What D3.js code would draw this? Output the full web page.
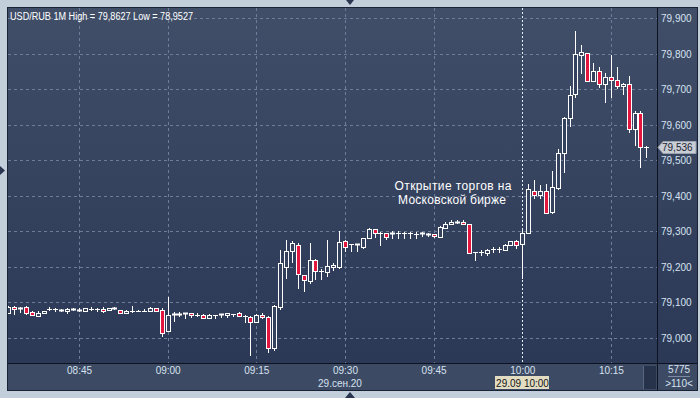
<!DOCTYPE html>
<html><head><meta charset="utf-8">
<script src="https://cdn.jsdelivr.net/npm/d3@7"></script>
<style>html,body{margin:0;padding:0;background:#c3cedb;}svg{display:block;}</style>
</head><body>
<script>
// ---- DATA ----
const times = ["08:33","08:34","08:35","08:36","08:37","08:38","08:39","08:40","08:41","08:42","08:43","08:44","08:45","08:46","08:47","08:48","08:49","08:50","08:51","08:52","08:53","08:54","08:55","08:56","08:57","08:58","08:59","09:00","09:01","09:02","09:03","09:04","09:05","09:06","09:07","09:08","09:09","09:10","09:11","09:12","09:13","09:14","09:15","09:16","09:17","09:18","09:19","09:20","09:21","09:22","09:23","09:24","09:25","09:26","09:27","09:28","09:29","09:30","09:31","09:32","09:33","09:34","09:35","09:36","09:37","09:38","09:39","09:40","09:41","09:42","09:43","09:44","09:45","09:46","09:47","09:48","09:49","09:50","09:51","09:52","09:53","09:54","09:55","09:56","09:57","09:58","09:59","10:00","10:01","10:02","10:03","10:04","10:05","10:06","10:07","10:08","10:09","10:10","10:11","10:12","10:13","10:14","10:15","10:16","10:17","10:18","10:19","10:20","10:21"];
const open  = [79.070,79.088,79.081,79.088,79.074,79.063,79.070,79.082,79.082,79.080,79.075,79.079,79.075,79.075,79.081,79.082,79.082,79.078,79.083,79.080,79.069,79.077,79.077,79.077,79.077,79.083,79.078,79.021,79.066,79.067,79.067,79.070,79.066,79.064,79.055,79.065,79.066,79.066,79.068,79.070,79.061,79.058,79.046,79.065,79.058,78.971,79.088,79.201,79.246,79.262,79.177,79.161,79.219,79.189,79.187,79.201,79.201,79.273,79.263,79.263,79.257,79.281,79.306,79.296,79.296,79.293,79.294,79.294,79.294,79.293,79.293,79.291,79.292,79.283,79.310,79.320,79.327,79.325,79.321,79.243,79.241,79.238,79.250,79.250,79.248,79.262,79.274,79.264,79.295,79.414,79.402,79.414,79.355,79.421,79.521,79.618,79.686,79.795,79.801,79.724,79.752,79.714,79.735,79.725,79.709,79.714,79.587,79.632,79.536];
const high  = [79.089,79.089,79.086,79.089,79.076,79.077,79.077,79.086,79.083,79.081,79.084,79.084,79.083,79.083,79.086,79.083,79.086,79.083,79.086,79.080,79.080,79.089,79.080,79.082,79.086,79.083,79.084,79.115,79.073,79.072,79.070,79.070,79.070,79.068,79.068,79.066,79.067,79.070,79.068,79.072,79.066,79.061,79.067,79.070,79.061,79.094,79.248,79.276,79.273,79.268,79.177,79.268,79.223,79.195,79.276,79.211,79.301,79.276,79.264,79.264,79.281,79.309,79.306,79.297,79.296,79.301,79.301,79.299,79.299,79.299,79.298,79.296,79.293,79.315,79.327,79.332,79.332,79.332,79.321,79.243,79.248,79.250,79.256,79.256,79.264,79.274,79.277,79.304,79.433,79.444,79.430,79.433,79.470,79.531,79.622,79.709,79.8627,79.824,79.801,79.774,79.761,79.744,79.796,79.761,79.718,79.737,79.639,79.639,79.540];
const low   = [79.070,79.067,79.074,79.068,79.064,79.063,79.070,79.079,79.077,79.075,79.071,79.079,79.075,79.075,79.079,79.076,79.073,79.078,79.082,79.070,79.069,79.073,79.077,79.077,79.075,79.077,79.006,79.021,79.049,79.061,79.057,79.060,79.062,79.055,79.055,79.057,79.059,79.059,79.061,79.061,79.046,78.9527,79.044,79.055,78.962,78.965,79.082,79.170,79.213,79.140,79.133,79.154,79.165,79.166,79.174,79.192,79.196,79.246,79.246,79.246,79.252,79.281,79.285,79.261,79.278,79.281,79.280,79.280,79.282,79.282,79.286,79.286,79.285,79.283,79.309,79.320,79.323,79.321,79.238,79.220,79.234,79.234,79.243,79.243,79.248,79.262,79.252,79.170,79.295,79.393,79.393,79.351,79.351,79.418,79.468,79.596,79.679,79.746,79.724,79.724,79.707,79.665,79.677,79.702,79.686,79.580,79.543,79.480,79.510];
const close = [79.088,79.081,79.085,79.071,79.065,79.069,79.077,79.0825,79.081,79.075,79.081,79.081,79.079,79.083,79.082,79.082,79.077,79.083,79.082,79.070,79.077,79.077,79.077,79.077,79.083,79.077,79.014,79.064,79.067,79.066,79.070,79.064,79.066,79.055,79.064,79.066,79.067,79.069,79.068,79.061,79.061,79.046,79.065,79.058,78.971,79.090,79.210,79.246,79.266,79.179,79.163,79.219,79.189,79.189,79.203,79.205,79.269,79.257,79.263,79.262,79.281,79.306,79.295,79.296,79.285,79.294,79.294,79.295,79.294,79.293,79.294,79.292,79.287,79.311,79.321,79.327,79.324,79.321,79.238,79.243,79.243,79.248,79.251,79.251,79.262,79.274,79.262,79.295,79.418,79.402,79.414,79.352,79.426,79.521,79.618,79.683,79.799,79.803,79.724,79.751,79.714,79.733,79.726,79.709,79.714,79.587,79.632,79.536,79.536];
const priceTicks = [79.0,79.1,79.2,79.3,79.4,79.5,79.6,79.7,79.8,79.9];
const priceTickLabels = ["79,000","79,100","79,200","79,300","79,400","79,500","79,600","79,700","79,800","79,900"];
const timeTicks = ["08:45","09:00","09:15","09:30","09:45","10:00","10:15"];
const titleText = "USD/RUB 1M  High = 79,8627 Low = 78,9527";
const noteLines = ["Открытие торгов на","Московской бирже"];
const lastPrice = 79.536, lastPriceLabel = "79,536";
const dateLabel = "29.сен.20", cursorLabel = "29.09 10:00", cursorTime = "10:00";
const volLabel = "5775", barsLabel = ">110<";

// ---- LAYOUT ----
const W = 700, H = 398;
const P = {l: 8, r: 657, t: 8, b: 363};
const AX = {l: 657, r: 697};
const BB = {t: 363, b: 390};

const svg = d3.select("body").append("svg").attr("width", W).attr("height", H)
  .style("font-family", "'Liberation Sans', Arial, sans-serif");
const defs = svg.append("defs");
const g1 = defs.append("linearGradient").attr("id","bg").attr("x1",0).attr("y1",0).attr("x2",0).attr("y2",1);
g1.append("stop").attr("offset","0%").attr("stop-color","#404e68");
g1.append("stop").attr("offset","100%").attr("stop-color","#2b3856");
defs.append("clipPath").attr("id","clip").append("rect")
  .attr("x",P.l).attr("y",P.t).attr("width",P.r-P.l).attr("height",P.b-P.t);

svg.append("rect").attr("width",W).attr("height",H).attr("fill","#c3cedb");
svg.append("rect").attr("x",P.l).attr("y",P.t).attr("width",AX.r-P.l).attr("height",BB.b-P.t).attr("fill","#101826");
svg.append("rect").attr("x",P.l).attr("y",P.t).attr("width",P.r-P.l).attr("height",P.b-P.t).attr("fill","url(#bg)");
svg.append("rect").attr("x",AX.l+1).attr("y",P.t).attr("width",AX.r-AX.l-1).attr("height",P.b-P.t).attr("fill","url(#bg)");
svg.append("rect").attr("x",P.l).attr("y",BB.t+1).attr("width",P.r-P.l).attr("height",BB.b-BB.t-1).attr("fill","#3d4a64");
svg.append("rect").attr("x",AX.l+1).attr("y",BB.t+1).attr("width",AX.r-AX.l-1).attr("height",BB.b-BB.t-1).attr("fill","#3d4a64");
svg.append("rect").attr("x",644).attr("y",BB.t+3).attr("width",12).attr("height",BB.b-BB.t-4).attr("fill","#27324b");
svg.append("line").attr("x1",643.5).attr("x2",643.5).attr("y1",BB.t+3).attr("y2",BB.b-1).attr("stroke","#5a6680");

// scales
const x = d3.scalePoint().domain(times).range([8.1, 8.1 + 5.91*(times.length-1)]);
const y = d3.scaleLinear().domain([79.0, 79.9]).range([338, 18]);
const px = t => Math.round(x(t));

// grid
const grid = svg.append("g").attr("clip-path","url(#clip)");
grid.selectAll("line.h").data(priceTicks).join("line")
  .attr("x1",P.l).attr("x2",P.r).attr("y1",d=>Math.round(y(d))+0.5).attr("y2",d=>Math.round(y(d))+0.5)
  .attr("stroke","#6d7d98").attr("stroke-dasharray","3,3");
grid.selectAll("line.v").data(timeTicks.filter(t=>t!==cursorTime)).join("line")
  .attr("x1",d=>px(d)+0.5).attr("x2",d=>px(d)+0.5).attr("y1",P.t).attr("y2",P.b)
  .attr("stroke","#6d7d98").attr("stroke-dasharray","3,3");
grid.append("line").attr("x1",px(cursorTime)+0.5).attr("x2",px(cursorTime)+0.5).attr("y1",P.t).attr("y2",P.b)
  .attr("stroke","#e8eef8").attr("stroke-dasharray","2,2");

// candles
const candles = times.map((t,i)=>({t, o:open[i], h:high[i], l:low[i], c:close[i]}));
const cg = svg.append("g").attr("clip-path","url(#clip)");
const cs = cg.selectAll("g.c").data(candles).join("g");
cs.append("line")
  .attr("x1",d=>px(d.t)+0.5).attr("x2",d=>px(d.t)+0.5)
  .attr("y1",d=>Math.round(y(d.h))).attr("y2",d=>Math.round(y(d.l))+1)
  .attr("stroke","#ffffff");
cs.each(function(d){
  const top = Math.round(y(Math.max(d.o,d.c))), bot = Math.round(y(Math.min(d.o,d.c)));
  const cx = px(d.t);
  const sel = d3.select(this);
  if (bot - top < 2) {
    sel.append("line").attr("x1",cx-2).attr("x2",cx+3).attr("y1",top+0.5).attr("y2",top+0.5)
      .attr("stroke","#ffffff").attr("stroke-width", bot-top<1?1:2);
  } else {
    const up = d.c >= d.o;
    if (up) {
      // hollow: hide wick inside body
      sel.append("rect").attr("x",cx-1).attr("y",top+1).attr("width",3).attr("height",Math.max(0,bot-top-1))
        .attr("fill","#34425d");
    }
    sel.append("rect").attr("x",cx-1.5).attr("y",top+0.5).attr("width",4).attr("height",bot-top)
      .attr("fill", up ? "none" : "#e3173e").attr("stroke","#ffffff");
  }
});

// borders
svg.append("line").attr("x1",P.l).attr("x2",AX.r).attr("y1",P.b+0.5).attr("y2",P.b+0.5).attr("stroke","#0c1220");
svg.append("line").attr("x1",AX.l+0.5).attr("x2",AX.l+0.5).attr("y1",P.t).attr("y2",BB.b).attr("stroke","#0c1220");
svg.append("rect").attr("x",P.l-0.5).attr("y",P.t-0.5).attr("width",AX.r-P.l+1).attr("height",BB.b-P.t+1).attr("fill","none").attr("stroke","#1a2335");

// y axis labels
const yAxis = d3.axisRight(y).tickValues(priceTicks).tickFormat((d,i)=>priceTickLabels[i]).tickSize(0).tickPadding(4);
const ya = svg.append("g").attr("transform",`translate(${AX.l},0)`).call(yAxis);
ya.select(".domain").remove();
ya.selectAll("text").attr("fill","#d6e2f0").style("font-size","10px").style("font-family","'Liberation Sans', Arial, sans-serif").attr("dy","0.35em");

// x axis labels
const xAxis = d3.axisBottom(x).tickValues(timeTicks).tickSize(0).tickPadding(4);
const xa = svg.append("g").attr("transform",`translate(0,${BB.t})`).call(xAxis);
xa.select(".domain").remove();
xa.selectAll("text").attr("fill","#d6e2f0").style("font-size","10px").style("font-family","'Liberation Sans', Arial, sans-serif");

svg.append("text").attr("x",340).attr("y",387).attr("text-anchor","middle").attr("fill","#d6e2f0").style("font-size","10px").text(dateLabel);
const cx0 = px(cursorTime);
svg.append("rect").attr("x",cx0-27).attr("y",376).attr("width",54).attr("height",13).attr("fill","#e2ddc2");
svg.append("text").attr("x",cx0+0.5).attr("y",386.5).attr("text-anchor","middle").attr("fill","#141414").style("font-size","10px").text(cursorLabel);

// right bottom panel
svg.append("text").attr("x",679).attr("y",373).attr("text-anchor","middle").attr("fill","#d6e2f0").style("font-size","10px").text(volLabel);
svg.append("line").attr("x1",668).attr("x2",690).attr("y1",376.5).attr("y2",376.5).attr("stroke","#7d8aa2");
svg.append("text").attr("x",679).attr("y",387).attr("text-anchor","middle").attr("fill","#d6e2f0").style("font-size","10px").text(barsLabel);

// last price tag
const ly = Math.round(y(lastPrice));
svg.append("path").attr("d",`M${AX.l+1},${ly+0.5} L${AX.l+6},${ly-5.5} L${AX.r-1},${ly-5.5} L${AX.r-1},${ly+6.5} L${AX.l+6},${ly+6.5} Z`)
  .attr("fill","#c9cdd4").attr("stroke","#9aa2b0");
svg.append("text").attr("x",AX.l+5).attr("y",ly+4).attr("fill","#1b2233").style("font-size","10px").text(lastPriceLabel);

// title
svg.append("text").attr("x",10).attr("y",20).attr("fill","#ffffff").style("font-size","10px")
  .attr("textLength",183).attr("lengthAdjust","spacingAndGlyphs").text(titleText);

// annotation
svg.append("text").attr("x",453).attr("y",190).attr("text-anchor","middle").attr("fill","#ffffff").style("font-size","12px")
  .attr("textLength",117).attr("lengthAdjust","spacing").text(noteLines[0]);
svg.append("text").attr("x",452).attr("y",204).attr("text-anchor","middle").attr("fill","#ffffff").style("font-size","12px")
  .attr("textLength",108).attr("lengthAdjust","spacing").text(noteLines[1]);

// frame arrows
svg.append("path").attr("d","M346,0 L354,0 L350,5 Z").attr("fill","#2a3550");
svg.append("path").attr("d","M345,398 L355,398 L350,392 Z").attr("fill","#2a3550");
svg.append("path").attr("d","M0,166 L0,175 L5,170.5 Z").attr("fill","#2a3550");
</script>
</body></html>
